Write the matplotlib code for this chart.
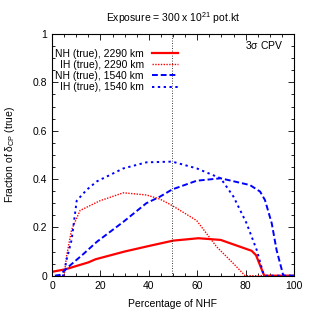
import matplotlib
matplotlib.use("Agg")
import matplotlib.pyplot as plt
from matplotlib.ticker import MultipleLocator

plt.rcParams["font.family"] = ["Liberation Sans", "DejaVu Sans"]
plt.rcParams["mathtext.fontset"] = "custom"
plt.rcParams["mathtext.rm"] = "Liberation Sans"
plt.rcParams["mathtext.it"] = "Liberation Sans"

# NH (true), 2290 km
nh2290_x = [0.5, 2.6, 5.4, 10, 15, 18, 30, 40.5, 50, 60.5, 69.7, 82.5, 84.3, 87.7, 100]
nh2290_y = [0.017, 0.021, 0.026, 0.04, 0.055, 0.068, 0.10, 0.124, 0.145, 0.155, 0.148, 0.103, 0.085, 0.0, 0.0]

# IH (true), 2290 km
ih2290_x = [5, 6, 8.1, 11.6, 19.8, 29.5, 39, 44.6, 49.7, 59.8, 68, 75, 79.8, 100]
ih2290_y = [0.0, 0.08, 0.19, 0.27, 0.31, 0.343, 0.334, 0.317, 0.29, 0.228, 0.12, 0.05, 0.0, 0.0]

# NH (true), 1540 km
nh1540_x = [1.2, 3.3, 4.7, 6, 13, 18.5, 29.5, 39, 44.6, 49.7, 59.8, 69.7, 81.8, 86, 88,
            90.8, 92.8, 95.6, 100]
nh1540_y = [0.0, 0.003, 0.017, 0.03, 0.09, 0.14, 0.223, 0.30, 0.327, 0.357, 0.393, 0.403,
            0.375, 0.348, 0.313, 0.217, 0.106, 0.0, 0.0]

# IH (true), 1540 km
ih1540_x = [1.8, 4.7, 6, 8.1, 10.2, 14.3, 18.5, 29.5, 39, 49.7, 59.8, 69.7, 75, 80.4,
            84.6, 87.3, 88, 100]
ih1540_y = [0.0, 0.0, 0.065, 0.148, 0.31, 0.355, 0.39, 0.444, 0.469, 0.472, 0.444, 0.403,
            0.327, 0.217, 0.106, 0.01, 0.0, 0.0]

nhf_true = 49.7

fs = 7.5
fig = plt.figure(figsize=(3.13, 3.13), dpi=100)
ax = fig.add_axes([52 / 313, 37.3 / 313, 242 / 313, 241.7 / 313])

ax.plot(nh2290_x, nh2290_y, color="red", lw=1.6, ls="-", label="NH (true), 2290 km")
ax.plot(ih2290_x, ih2290_y, color="red", lw=1.0, ls=(0, (1, 1)), label="IH (true), 2290 km")
ax.plot(nh1540_x, nh1540_y, color="blue", lw=1.4, ls=(0, (3, 1.5)), label="NH (true), 1540 km")
ax.plot(ih1540_x, ih1540_y, color="blue", lw=1.4, ls=(0, (1.2, 1.8)), label="IH (true), 1540 km")
ax.axvline(nhf_true, color="black", lw=0.6, ls=(0, (1, 2)))

ax.set_xlim(0, 100)
ax.set_ylim(0, 1)
ax.xaxis.set_major_locator(MultipleLocator(20))
ax.xaxis.set_minor_locator(MultipleLocator(5))
ax.yaxis.set_minor_locator(MultipleLocator(0.05))
ax.set_yticks([0, 0.2, 0.4, 0.6, 0.8, 1.0])
ax.set_yticklabels(["0", "0.2", "0.4", "0.6", "0.8", "1"])
ax.tick_params(which="both", direction="in", top=True, right=True, labelsize=fs, width=0.6)
ax.tick_params(which="major", length=4)
ax.tick_params(which="minor", length=2)
for s in ax.spines.values():
    s.set_linewidth(0.8)

ax.set_xlabel("Percentage of NHF", fontsize=fs, labelpad=6)
ax.set_ylabel("Fraction of $\\delta_{\\rm CP}$ (true)", fontsize=fs, labelpad=11)
ax.set_title("Exposure = 300 x 10$^{21}$ pot.kt", fontsize=fs, pad=9)
ax.text(0.955, 0.955, "3$\\sigma$ CPV", transform=ax.transAxes, ha="right", va="center",
        fontsize=fs)
ax.legend(loc="upper left", bbox_to_anchor=(-0.017, 0.97), frameon=False, markerfirst=False,
          fontsize=fs, handlelength=2.5, labelspacing=0.12, borderaxespad=0.3,
          handletextpad=0.8)

fig.savefig("out.png", dpi=100)
